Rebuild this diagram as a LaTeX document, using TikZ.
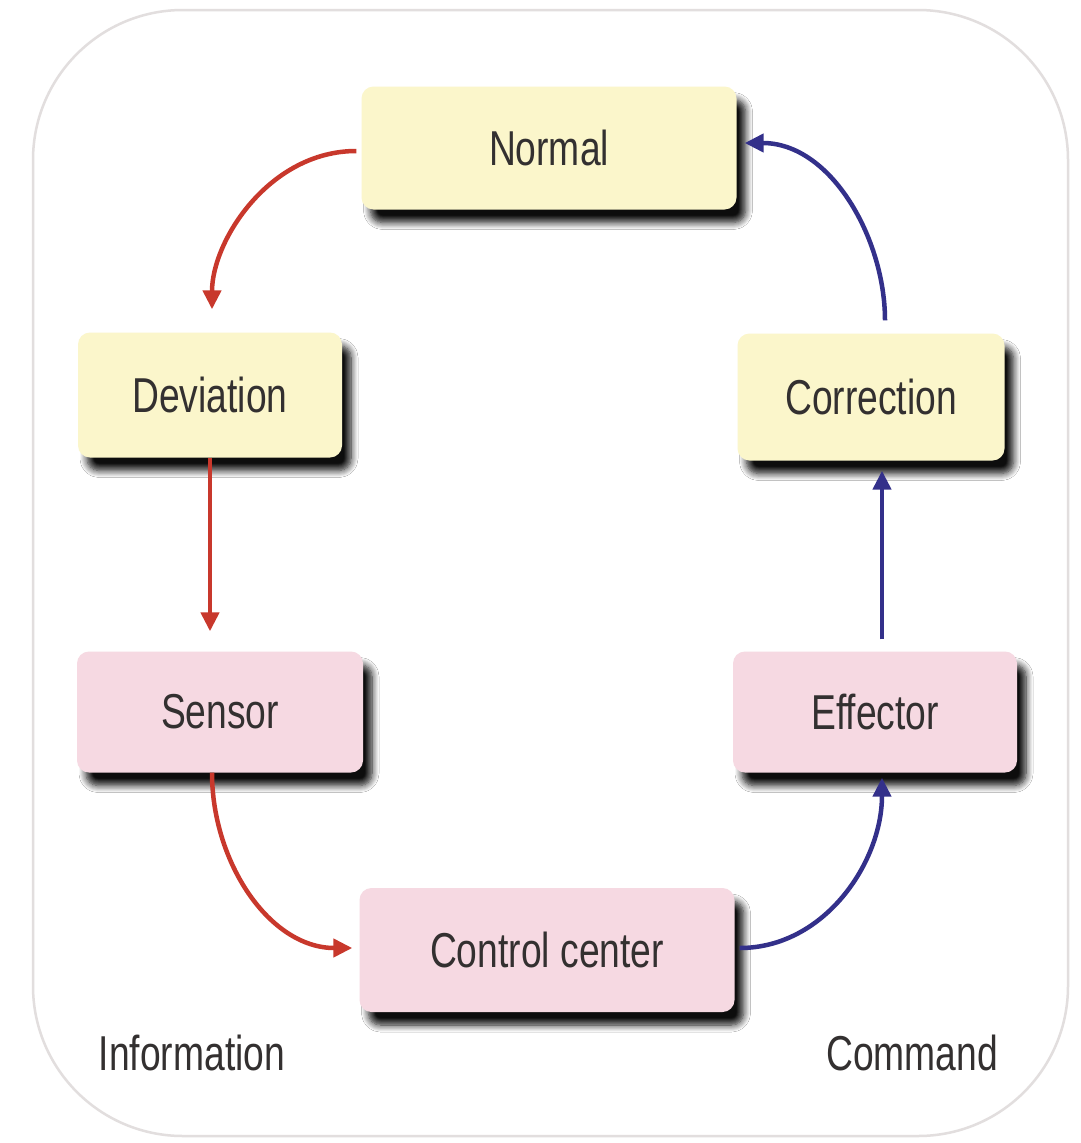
\documentclass[tikz,border=0pt]{standalone}
\usepackage{fontspec}
\setmainfont[FakeStretch=0.76]{Liberation Sans}
\usetikzlibrary{arrows.meta,shadows.blur,calc}
\definecolor{yelfill}{HTML}{FBF6CB}
\definecolor{pinkfill}{HTML}{F6D9E2}
\definecolor{redarrow}{HTML}{C8382C}
\definecolor{bluearrow}{HTML}{33308A}
\definecolor{txtcol}{HTML}{333030}
\definecolor{framecol}{HTML}{E2DEDE}
\tikzset{
  boxbase/.style={rectangle, rounded corners=12pt, inner sep=0pt,
    font=\fontsize{49}{58}\selectfont, text=txtcol,
    blur shadow={shadow xshift=9pt, shadow yshift=-13pt, shadow blur radius=7pt, shadow blur steps=8, shadow opacity=95}},
  yelbox/.style={boxbase, fill=yelfill},
  pinkbox/.style={boxbase, fill=pinkfill},
  redline/.style={draw=redarrow, line width=4.5pt, -{Triangle[length=19pt,width=18pt]}},
  blueline/.style={draw=bluearrow, line width=4.5pt, -{Triangle[length=19pt,width=18pt]}},
  sidelabel/.style={font=\fontsize{49}{58}\selectfont, text=txtcol, inner sep=0pt}
}
\begin{document}
\begin{tikzpicture}[x=1pt,y=-1pt]
\useasboundingbox (0,0) rectangle (1081,1143);
\fill[white] (0,0) rectangle (1081,1143);
\draw[framecol, line width=2.5pt, rounded corners=150pt] (33,10) rectangle (1068,1136);

\node[yelbox, minimum width=375pt, minimum height=123pt] (normal) at (549,148) {Normal};
\node[yelbox, minimum width=264pt, minimum height=125pt] (dev) at (210,395) {Deviation};
\node[yelbox, minimum width=267pt, minimum height=127pt] (corr) at (871,397) {Correction};
\node[pinkbox, minimum width=286pt, minimum height=121pt] (sens) at (220,712) {Sensor};
\node[pinkbox, minimum width=284pt, minimum height=121pt] (eff) at (875,712) {Effector};
\node[pinkbox, minimum width=375pt, minimum height=124pt] (cc) at (547,950) {Control center};

\node[sidelabel] (info) at (192,1053) {Information};
\node[sidelabel] (cmd) at (912,1053) {Command};

\draw[redline, shorten <=5pt, shorten >=23pt] ([yshift=-3pt]normal.west) to[out=180, in=90] ([xshift=2pt]dev.north);
\draw[redline, shorten >=20pt] (dev.south) -- ([xshift=-10pt]sens.north);
\draw[redline, shorten >=7pt] ([xshift=-8pt]sens.south) to[out=-90, in=180] ([yshift=2pt]cc.west);
\draw[blueline, shorten <=5pt, shorten >=5pt] ([yshift=2pt]cc.east) to[out=0, in=-90] ([xshift=7pt]eff.south);
\draw[blueline, shorten <=12pt, shorten >=10pt] ([xshift=7pt]eff.north) -- ([xshift=11pt]corr.south);
\draw[blueline, shorten <=13pt, shorten >=8pt] ([xshift=14pt]corr.north) to[out=90, in=0] ([yshift=5pt]normal.east);
\end{tikzpicture}
\end{document}
